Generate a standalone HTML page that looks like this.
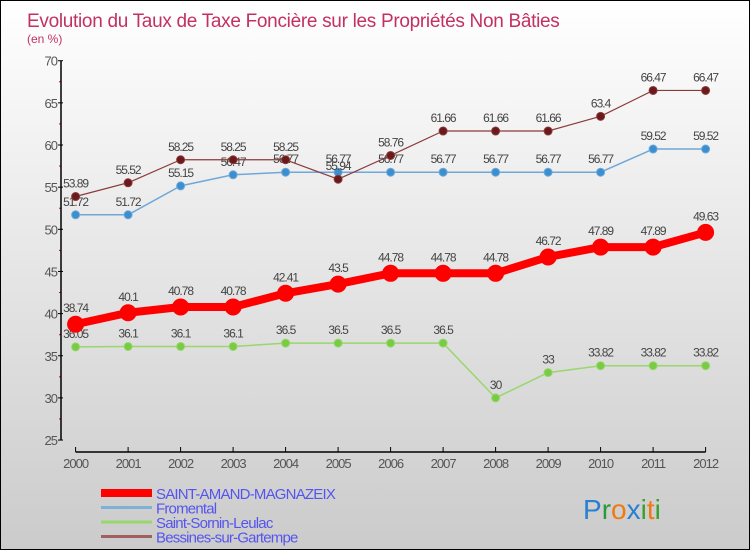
<!DOCTYPE html>
<html><head><meta charset="utf-8"><style>
body{margin:0}
#c{position:relative;width:748px;height:548px;border:1px solid #000;background:linear-gradient(#fff,#cbcbcb);overflow:hidden;font-family:"Liberation Sans",sans-serif}
svg text{font-family:"Liberation Sans",sans-serif}
</style></head><body>
<div id="c">
<svg id="s" width="748" height="548"></svg>
</div>
<script>
const years=[2000,2001,2002,2003,2004,2005,2006,2007,2008,2009,2010,2011,2012];
const yTicks=[25,30,35,40,45,50,55,60,65,70];
const sam=[38.74,40.1,40.78,40.78,42.41,43.5,44.78,44.78,44.78,46.72,47.89,47.89,49.63];
const fro=[51.72,51.72,55.15,56.47,56.77,56.77,56.77,56.77,56.77,56.77,56.77,59.52,59.52];
const ssl=[36.05,36.1,36.1,36.1,36.5,36.5,36.5,36.5,30,33,33.82,33.82,33.82];
const bes=[53.89,55.52,58.25,58.25,58.25,55.94,58.76,61.66,61.66,61.66,63.4,66.47,66.47];
const names=["SAINT-AMAND-MAGNAZEIX","Fromental","Saint-Sornin-Leulac","Bessines-sur-Gartempe"];
const NS="http://www.w3.org/2000/svg";const s=document.getElementById('s');
function X(i){return 74.6+i*52.5;}
function Y(v){return 59.7+(70-v)*8.43;}
function el(t,a,p){const e=document.createElementNS(NS,t);for(const k in a)e.setAttribute(k,a[k]);(p||s).appendChild(e);return e;}
function tx(x,y,str,a){const e=el('text',Object.assign({x:x,y:y},a));e.textContent=str;return e;}
let t=tx(26,26,"Evolution du Taux de Taxe Foncière sur les Propriétés Non Bâties",{fill:'#c33063','font-size':19,'letter-spacing':'-0.3'});

t=tx(26,42,"(en %)",{fill:'#c33063','font-size':12});

yTicks.forEach((v,i)=>{el('line',{x1:57,y1:Y(v),x2:62,y2:Y(v),stroke:'#000'});
 if(i<yTicks.length-1)el('line',{x1:58,y1:Y(v+2.5),x2:60,y2:Y(v+2.5),stroke:'#e00'});
 const l=tx(56,Y(v)+5,String(v),{'text-anchor':'end','font-size':13,fill:'#555','letter-spacing':'-1'});
 });
let ya=el('line',{x1:60,y1:Y(70),x2:60,y2:Y(25),stroke:'#000','stroke-width':1.5});

let xa=el('line',{x1:X(0),y1:451,x2:X(12),y2:451,stroke:'#000','stroke-width':1.5});

years.forEach((yr,i)=>{el('line',{x1:X(i),y1:446,x2:X(i),y2:451,stroke:'#000'});
 const l=tx(X(i),467,String(yr),{'text-anchor':'middle','font-size':13,fill:'#555','letter-spacing':'-1'});
 });
function series(vals,col,fill,w,r,name,dy){
 const g=el('g',{});
 el('polyline',{points:vals.map((v,i)=>X(i)+','+Y(v)).join(' '),fill:'none',stroke:col,'stroke-width':w,'stroke-linejoin':'round'},g);
 vals.forEach((v,i)=>{const c=el('circle',{cx:X(i),cy:Y(v),r:r,fill:fill,stroke:col,'stroke-width':1},g);
  
  const l=tx(X(i),Y(v)-dy,String(v),{'text-anchor':'middle','font-size':12,fill:'#444','letter-spacing':'-1'},g);
  });}
series(ssl,'#99d66c','#77cc44',1.5,4,'series-saint-sornin-leulac',9);
series(fro,'#6fa8d8','#3a8fd0',1.5,4,'series-fromental',9);
series(bes,'#8b3a3a','#6a1a1a',1.2,4,'series-bessines',9);
series(sam,'#ff0000','#ff0000',8,8,'series-saint-amand',12);
const lc=[['#ff0000',8],['#7fb0d8',3],['#99d66c',3],['#a06060',3]];
names.forEach((n,i)=>{const y=492+i*14.5;
 const g=el('g',{});
 el('line',{x1:100,y1:y,x2:151,y2:y,stroke:lc[i][0],'stroke-width':lc[i][1]},g);
 tx(155,y+6,n,{'font-size':15,fill:'#5555ee','letter-spacing':'-0.8'},g);});
const lg=el('text',{x:582,y:518,'font-size':28,'font-family':'Liberation Sans'});

[['P','#2a7fd0'],['r','#2a9a3a'],['o','#f07a10'],['x','#2a7fd0'],['i','#3aa030'],['t','#f07a10'],['i','#3aa030']].forEach(([c,f])=>{const sp=el('tspan',{fill:f},lg);sp.textContent=c;});
</script>
</body></html>
